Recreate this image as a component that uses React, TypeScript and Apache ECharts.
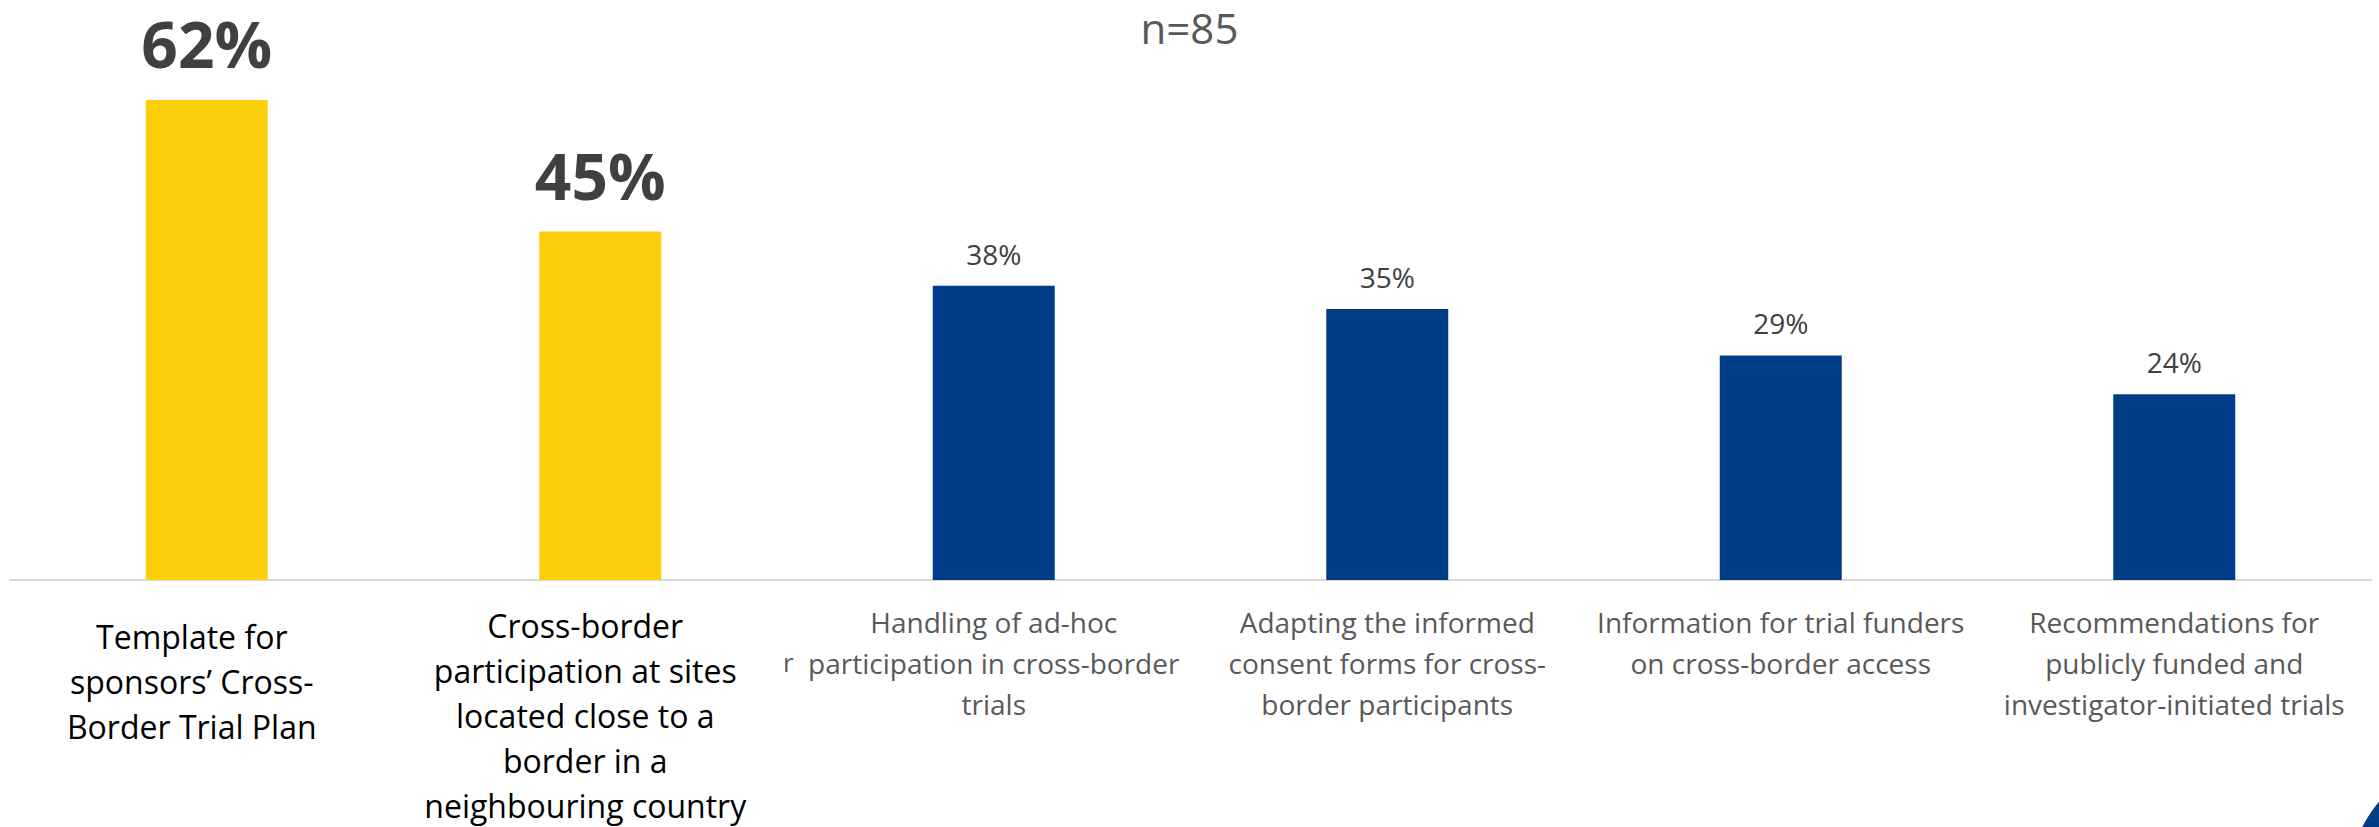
import React, { useEffect, useRef } from "react";
import * as echarts from "echarts";

const categories: string[] = [
  "Template for\nsponsors’ Cross-\nBorder Trial Plan",
  "Cross-border\nparticipation at sites\nlocated close to a\nborder in a\nneighbouring country",
  "Handling of ad-hoc\nparticipation in cross-border\ntrials",
  "Adapting the informed\nconsent forms for cross-\nborder participants",
  "Information for trial funders\non cross-border access",
  "Recommendations for\npublicly funded and\ninvestigator-initiated trials",
];
const values: number[] = [62, 45, 38, 35, 29, 24];
const highlighted: boolean[] = [true, true, false, false, false, false];
const labelGaps: number[] = [13, 2, 0, 0, 0, 0];
const subtitle = "n=85";

const YELLOW = "#FFCE0A";
const BLUE = "#003D86";
const FONT = "'Open Sans', sans-serif";

export default function App() {
  const ref = useRef<HTMLDivElement>(null);
  useEffect(() => {
    if (!ref.current) return;
    const chart = echarts.init(ref.current, undefined, { renderer: "svg" });
    const data = values.map((v, i) => ({
      value: v,
      itemStyle: { color: highlighted[i] ? YELLOW : BLUE },
      label: highlighted[i]
        ? { fontSize: 64, fontWeight: "bold", color: "#404040", distance: 24 }
        : { fontSize: 28, fontWeight: "normal", color: "#404040", distance: 18 },
    }));
    chart.setOption({
      animation: false,
      backgroundColor: "#ffffff",
      title: {
        text: subtitle,
        left: "center",
        top: 1,
        textStyle: { fontFamily: FONT, fontSize: 42, fontWeight: "normal", color: "#595959" },
      },
      grid: { left: 10, right: 8, top: 38, bottom: 247, containLabel: false },
      xAxis: {
        type: "category",
        data: categories,
        axisLine: { show: true, lineStyle: { color: "#D9D9D9", width: 2 } },
        axisTick: { show: false },
        axisLabel: {
          interval: 0,
          margin: 21,
          verticalAlign: "top",
          formatter: (val: string, idx: number) => {
            const lines = val.split("\n");
            if (highlighted[idx]) {
              const gap = labelGaps[idx] > 0 ? `{gap${idx}| }\n` : "";
              return gap + lines.map((l) => `{b|${l}}`).join("\n");
            }
            return lines.map((l) => `{g|${l}}`).join("\n");
          },
          rich: {
            b: {
              fontFamily: FONT,
              fontSize: 32,
              color: "#000000",
              lineHeight: 45,
              align: "center",
              padding: [0, 30, 0, 0],
            },
            g: { fontFamily: FONT, fontSize: 28, color: "#595959", lineHeight: 41, align: "center" },
            gap0: { fontSize: 1, lineHeight: labelGaps[0] },
            gap1: { fontSize: 1, lineHeight: labelGaps[1] },
          },
        },
      },
      yAxis: {
        type: "value",
        min: 0,
        max: 70,
        show: false,
        splitLine: { show: false },
      },
      series: [
        {
          type: "bar",
          data,
          barWidth: "31%",
          label: {
            show: true,
            position: "top",
            fontFamily: FONT,
            formatter: "{c}%",
          },
        },
      ],
      graphic: [
        {
          type: "text",
          left: 783,
          top: 649,
          style: { text: "r", fontFamily: FONT, fontSize: 26, fill: "#595959" },
        },
        {
          type: "circle",
          shape: { cx: 2470, cy: 880, r: 120 },
          style: { fill: BLUE },
        },
      ],
    });
    return () => chart.dispose();
  }, []);
  return (
    <div
      ref={ref}
      style={{ position: "absolute", left: 0, top: 0, width: 2379, height: 827 }}
    />
  );
}
